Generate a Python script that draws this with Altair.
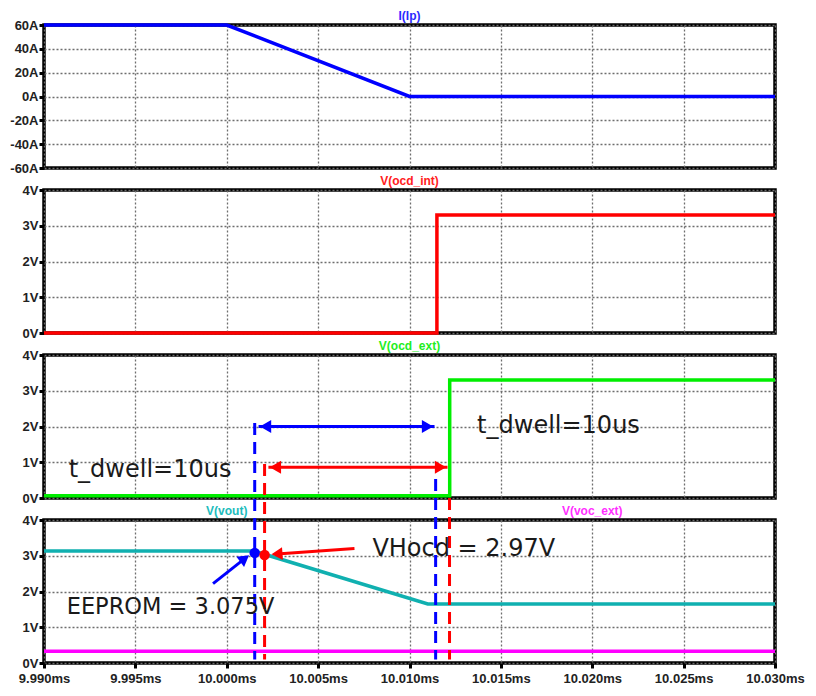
import altair as alt
import pandas as pd

# ---------------- data ----------------
t_ip = [9.990, 10.000, 10.010, 10.030]
i_ip = [60, 60, 0, 0]

t_int = [9.990, 10.0115, 10.0115, 10.030]
v_int = [0.0, 0.0, 3.3, 3.3]

t_ext = [9.990, 10.0122, 10.0122, 10.030]
v_ext = [0.06, 0.06, 3.3, 3.3]

t_vout = [9.990, 10.0015, 10.011, 10.030]
v_vout = [3.13, 3.13, 1.65, 1.65]

t_voc = [9.990, 10.030]
v_voc = [0.33, 0.33]

x_ticks = [9.990, 9.995, 10.000, 10.005, 10.010, 10.015, 10.020, 10.025, 10.030]
ticks_i = [-60, -40, -20, 0, 20, 40, 60]
ticks_v = [0, 1, 2, 3, 4]

# annotation anchors (data coordinates)
blue_marks = [10.00153, 10.01143]
red_marks = [10.00207, 10.01219]
blue_span = [10.00174, 10.01137]   # blue double arrow, at 2.0 V
red_span = [10.00228, 10.01208]    # red double arrow, at 0.86 V
dot_t = [10.00153, 10.00207]
dot_v = [3.08, 3.02]

# ---------------- layout ----------------
W = 731
H = 143
S = 22
FONT = "Liberation Sans"
ANN_FONT = "DejaVu Sans"
GRID = dict(grid=True, gridColor="#6e6e6e", gridDash=[2, 2], gridWidth=1.3, gridOpacity=1)

xscale = alt.Scale(domain=[9.990, 10.030], nice=False, zero=False)


class Panel:
    def __init__(self, domain, ticks, unit, show_x):
        self.yscale = alt.Scale(domain=domain, nice=False, zero=False)
        self.yaxis = alt.Axis(values=ticks, labelExpr="datum.value + '" + unit + "'",
                              title=None, domain=False, labelOverlap=False, **GRID)
        if show_x:
            self.xaxis = alt.Axis(values=x_ticks,
                                  labelExpr="format(datum.value, '.3f') + 'ms'",
                                  title=None, ticks=True, domain=False,
                                  labelFlush=False, labelOverlap=False, labelPadding=4,
                                  **GRID)
        else:
            self.xaxis = alt.Axis(values=x_ticks, labels=False, ticks=False, domain=False,
                                  title=None, **GRID)

    def x(self, field="t"):
        return alt.X(field + ":Q", scale=xscale, axis=self.xaxis)

    def y(self, field="v"):
        return alt.Y(field + ":Q", scale=self.yscale, axis=self.yaxis)

    def line(self, ts, vs, color):
        return alt.Chart(pd.DataFrame({"t": ts, "v": vs})).mark_line(
            color=color, strokeWidth=3.5).encode(x=self.x(), y=self.y())

    def title(self, xv, label, color):
        return alt.Chart(pd.DataFrame({"t": [xv], "lab": [label]})).mark_text(
            font=FONT, fontWeight="bold", fontSize=12, color=color, baseline="bottom",
            align="center").encode(x=self.x(), y=alt.value(-2), text="lab:N")

    def note(self, xv, yv, label, size=24):
        return alt.Chart(pd.DataFrame({"t": [xv], "v": [yv], "lab": [label]})).mark_text(
            font=ANN_FONT, fontSize=size, color="#1a1a1a", align="left",
            baseline="middle").encode(x=self.x(), y=self.y(), text="lab:N")

    def double_arrow(self, x0, x1, yv, color):
        shaft = alt.Chart(pd.DataFrame({"t": [x0], "t2": [x1], "v": [yv]})).mark_rule(
            color=color, strokeWidth=3).encode(x=self.x(), x2="t2:Q", y=self.y())
        left = alt.Chart(pd.DataFrame({"t": [x0], "v": [yv]})).mark_point(
            shape="triangle-left", filled=True, size=170, color=color, opacity=1,
            xOffset=7).encode(x=self.x(), y=self.y())
        right = alt.Chart(pd.DataFrame({"t": [x1], "v": [yv]})).mark_point(
            shape="triangle-right", filled=True, size=170, color=color, opacity=1,
            xOffset=-7).encode(x=self.x(), y=self.y())
        return shaft + left + right

    def vdash(self, xv, color, ytop, ybot):
        return alt.Chart(pd.DataFrame({"t": [xv]})).mark_rule(
            color=color, strokeWidth=3, strokeDash=[12, 7]).encode(
            x=self.x(), y=alt.value(ytop), y2=alt.value(ybot))

    def arrow(self, x0, y0, x1, y1, color, angle):
        shaft = alt.Chart(pd.DataFrame({"t": [x0], "v": [y0], "t2": [x1], "v2": [y1]})).mark_rule(
            color=color, strokeWidth=3).encode(x=self.x(), y=self.y(), x2="t2:Q", y2="v2:Q")
        head = alt.Chart(pd.DataFrame({"t": [x1], "v": [y1]})).mark_point(
            shape="triangle-up", filled=True, size=160, color=color, opacity=1,
            angle=angle).encode(x=self.x(), y=self.y())
        return shaft + head


P1 = Panel([-60, 60], ticks_i, "A", False)
P2 = Panel([0, 4], ticks_v, "V", False)
P3 = Panel([0, 4], ticks_v, "V", False)
P4 = Panel([0, 4], ticks_v, "V", True)

p1 = alt.layer(
    P1.line(t_ip, i_ip, "#0000ff"),
    P1.title(10.010, "I(Ip)", "#2a2aff"),
).properties(width=W, height=H)

p2 = alt.layer(
    P2.line(t_int, v_int, "#ff0000"),
    P2.title(10.010, "V(ocd_int)", "#ff2020"),
).properties(width=W, height=H)

p3 = alt.layer(
    P3.line(t_ext, v_ext, "#00ee00"),
    P3.title(10.010, "V(ocd_ext)", "#22ee22"),
    P3.double_arrow(blue_span[0], blue_span[1], 2.0, "#0000ff"),
    P3.double_arrow(red_span[0], red_span[1], 0.86, "#ff0000"),
    P3.note(9.99135, 0.78, "t_dwell=10us"),
    P3.note(10.0137, 2.02, "t_dwell=10us"),
).properties(width=W, height=H)


def p3px(v):
    # pixel position (relative to panel 4 top) of a value in panel 3
    return -(H + S) + H * (1 - v / 4)


bottom4 = H * (1 - 0.1 / 4)

dots = alt.Chart(pd.DataFrame({"t": dot_t, "v": dot_v, "c": ["b", "r"]})).mark_circle(
    size=110, opacity=1).encode(
    x=P4.x(), y=P4.y(),
    color=alt.Color("c:N", scale=alt.Scale(domain=["b", "r"], range=["#0000ff", "#ff0000"]),
                    legend=None))

p4 = alt.layer(
    P4.line(t_vout, v_vout, "#10b0b0"),
    P4.line(t_voc, v_voc, "#ff00ff"),
    P4.title(10.000, "V(vout)", "#20bcbc"),
    P4.title(10.020, "V(voc_ext)", "#ff30ff"),
    P4.vdash(blue_marks[0], "#0000ff", p3px(2.1), bottom4),
    P4.vdash(blue_marks[1], "#0000ff", -(H + 2 * S) + H + 3, bottom4),
    P4.vdash(red_marks[0], "#ff0000", p3px(0.95), bottom4),
    P4.vdash(red_marks[1], "#ff0000", p3px(0.0), bottom4),
    dots,
    P4.arrow(9.99925, 2.22, 10.00098, 2.92, "#0000ff", 53),
    P4.arrow(10.00699, 3.20, 10.00275, 3.05, "#ff0000", 266),
    P4.note(10.00797, 3.19, "VHocd = 2.97V"),
    P4.note(9.99124, 1.57, "EEPROM = 3.075V", size=22.5),
).properties(width=W, height=H)

chart = alt.vconcat(p1, p2, p3, p4, spacing=S, bounds="flush").properties(
    padding=0,
    background="white",
).configure_view(
    stroke="black", strokeWidth=3.5
).configure_axis(
    labelFont=FONT, labelFontWeight="bold", labelFontSize=13, labelColor="#222222",
    tickColor="black", tickWidth=3, tickSize=5, labelPadding=1,
)

chart.save("out.html", embed_options={"renderer": "svg", "actions": False})
